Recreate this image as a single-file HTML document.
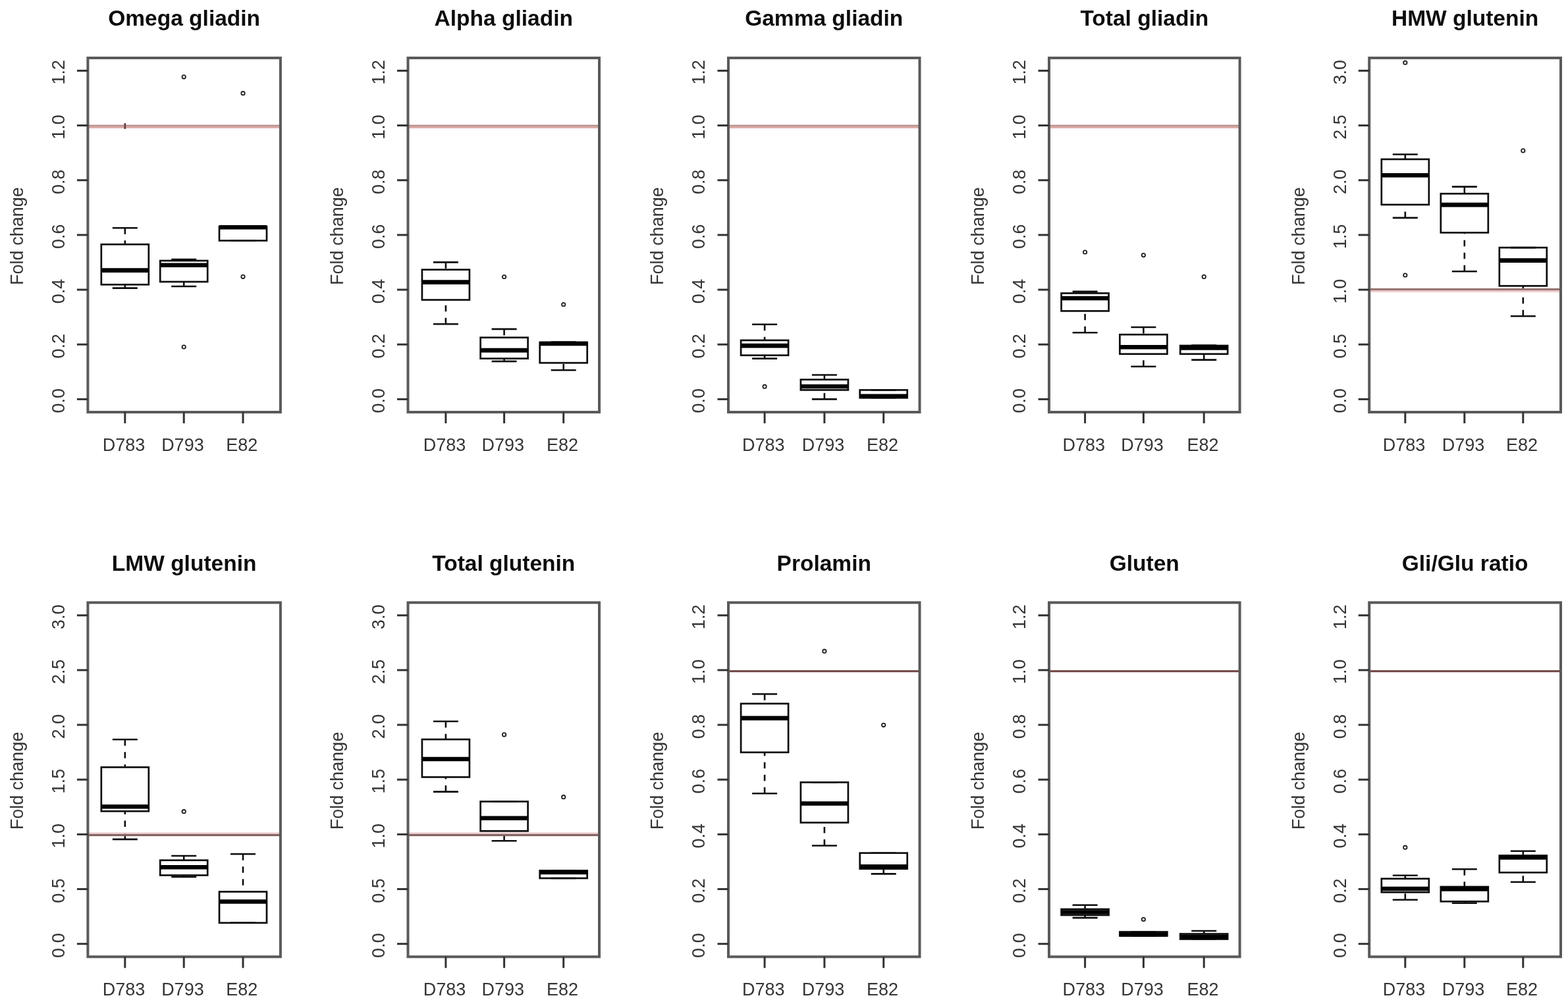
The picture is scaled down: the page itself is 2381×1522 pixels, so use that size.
<!DOCTYPE html>
<html><head><meta charset="utf-8"><title>Fold change boxplots</title>
<style>
html,body{margin:0;padding:0;background:#fff;}
body{width:2381px;height:1522px;overflow:hidden;}
svg{display:block;}
.fr{fill:none;stroke:#5a5a5a;stroke-width:4.0;}
.tk{stroke:#333;stroke-width:3.0;}
.bx{fill:none;stroke:#111;stroke-width:2.7;}
.md{stroke:#000;stroke-width:6.6;}
.wh{stroke:#111;stroke-width:2.6;stroke-dasharray:9.5 9.5;}
.st{stroke:#111;stroke-width:2.6;}
.ou{fill:none;stroke:#222;stroke-width:1.8;}
.rd{stroke:#c98a8a;stroke-width:3.4;}
.ax{font-family:"Liberation Sans",Arial,sans-serif;font-size:27px;fill:#363636;}
.ti{font-family:"Liberation Sans",Arial,sans-serif;font-size:33.5px;font-weight:bold;fill:#111;}
</style></head>
<body>
<svg width="2381" height="1522" viewBox="0 0 2381 1522">
<defs><filter id="soft" x="0" y="0" width="2381" height="1522" filterUnits="userSpaceOnUse"><feGaussianBlur stdDeviation="0.55"/></filter></defs>
<rect x="0" y="0" width="2381" height="1522" fill="#fff"/>
<g filter="url(#soft)">
<rect x="0" y="0" width="2381" height="1522" fill="#fff"/>
<line x1="189.8" y1="346.3" x2="189.8" y2="371.2" class="wh"/>
<line x1="189.8" y1="437.6" x2="189.8" y2="432.3" class="wh"/>
<line x1="170.8" y1="346.3" x2="208.8" y2="346.3" class="st"/>
<line x1="170.8" y1="437.6" x2="208.8" y2="437.6" class="st"/>
<rect x="153.8" y="371.2" width="72" height="61.1" class="bx"/>
<line x1="153.8" y1="410.6" x2="225.8" y2="410.6" class="md"/>
<line x1="279.2" y1="394" x2="279.2" y2="396" class="wh"/>
<line x1="279.2" y1="435" x2="279.2" y2="428" class="wh"/>
<line x1="260.2" y1="394" x2="298.2" y2="394" class="st"/>
<line x1="260.2" y1="435" x2="298.2" y2="435" class="st"/>
<rect x="243.2" y="396" width="72" height="32" class="bx"/>
<line x1="243.2" y1="402.7" x2="315.2" y2="402.7" class="md"/>
<circle cx="279.2" cy="116.8" r="2.7" class="ou"/>
<circle cx="279.2" cy="527" r="2.7" class="ou"/>
<line x1="350" y1="344" x2="388" y2="344" class="st"/>
<line x1="350" y1="365.5" x2="388" y2="365.5" class="st"/>
<rect x="333" y="344" width="72" height="21.5" class="bx"/>
<line x1="333" y1="345.2" x2="405" y2="345.2" class="md"/>
<circle cx="369" cy="141.7" r="2.7" class="ou"/>
<circle cx="369" cy="420.3" r="2.7" class="ou"/>
<rect x="133.4" y="189.6" width="292.5" height="2.3" fill="#b98c88"/>
<rect x="133.4" y="191.9" width="292.5" height="2.9" fill="#d8aaa6"/>
<rect x="188.4" y="186.9" width="2.8" height="9" fill="#6a4444"/>
<rect x="133.4" y="88" width="292.5" height="538" class="fr"/>
<line x1="116.9" y1="606.4" x2="133.4" y2="606.4" class="tk"/>
<text x="97.8" y="608.8" transform="rotate(-90 97.8 608.8)" class="ax" text-anchor="middle">0.0</text>
<line x1="116.9" y1="523.23" x2="133.4" y2="523.23" class="tk"/>
<text x="97.8" y="525.63" transform="rotate(-90 97.8 525.63)" class="ax" text-anchor="middle">0.2</text>
<line x1="116.9" y1="440.07" x2="133.4" y2="440.07" class="tk"/>
<text x="97.8" y="442.47" transform="rotate(-90 97.8 442.47)" class="ax" text-anchor="middle">0.4</text>
<line x1="116.9" y1="356.9" x2="133.4" y2="356.9" class="tk"/>
<text x="97.8" y="359.3" transform="rotate(-90 97.8 359.3)" class="ax" text-anchor="middle">0.6</text>
<line x1="116.9" y1="273.73" x2="133.4" y2="273.73" class="tk"/>
<text x="97.8" y="276.13" transform="rotate(-90 97.8 276.13)" class="ax" text-anchor="middle">0.8</text>
<line x1="116.9" y1="190.57" x2="133.4" y2="190.57" class="tk"/>
<text x="97.8" y="192.97" transform="rotate(-90 97.8 192.97)" class="ax" text-anchor="middle">1.0</text>
<line x1="116.9" y1="107.4" x2="133.4" y2="107.4" class="tk"/>
<text x="97.8" y="109.8" transform="rotate(-90 97.8 109.8)" class="ax" text-anchor="middle">1.2</text>
<line x1="189.8" y1="626" x2="189.8" y2="643" class="tk"/>
<text x="188" y="685" class="ax" text-anchor="middle">D783</text>
<line x1="279.2" y1="626" x2="279.2" y2="643" class="tk"/>
<text x="277.4" y="685" class="ax" text-anchor="middle">D793</text>
<line x1="369" y1="626" x2="369" y2="643" class="tk"/>
<text x="367.2" y="685" class="ax" text-anchor="middle">E82</text>
<text x="34.9" y="358.6" transform="rotate(-90 34.9 358.6)" class="ax" text-anchor="middle">Fold change</text>
<text x="279.65" y="39" class="ti" text-anchor="middle">Omega gliadin</text>
<line x1="676.9" y1="398.4" x2="676.9" y2="409.6" class="wh"/>
<line x1="676.9" y1="492.3" x2="676.9" y2="455.5" class="wh"/>
<line x1="657.9" y1="398.4" x2="695.9" y2="398.4" class="st"/>
<line x1="657.9" y1="492.3" x2="695.9" y2="492.3" class="st"/>
<rect x="640.9" y="409.6" width="72" height="45.9" class="bx"/>
<line x1="640.9" y1="428.6" x2="712.9" y2="428.6" class="md"/>
<line x1="765.6" y1="499.9" x2="765.6" y2="512.7" class="wh"/>
<line x1="765.6" y1="548.9" x2="765.6" y2="544.6" class="wh"/>
<line x1="746.6" y1="499.9" x2="784.6" y2="499.9" class="st"/>
<line x1="746.6" y1="548.9" x2="784.6" y2="548.9" class="st"/>
<rect x="729.6" y="512.7" width="72" height="31.9" class="bx"/>
<line x1="729.6" y1="532.1" x2="801.6" y2="532.1" class="md"/>
<circle cx="765.6" cy="420.5" r="2.7" class="ou"/>
<line x1="855.7" y1="562.3" x2="855.7" y2="551.2" class="wh"/>
<line x1="836.7" y1="519.5" x2="874.7" y2="519.5" class="st"/>
<line x1="836.7" y1="562.3" x2="874.7" y2="562.3" class="st"/>
<rect x="819.7" y="520" width="72" height="31.2" class="bx"/>
<line x1="819.7" y1="522" x2="891.7" y2="522" class="md"/>
<circle cx="855.7" cy="462.5" r="2.7" class="ou"/>
<rect x="619.5" y="189.6" width="290.5" height="2.3" fill="#b98c88"/>
<rect x="619.5" y="191.9" width="290.5" height="2.9" fill="#d8aaa6"/>
<rect x="619.5" y="88" width="290.5" height="538" class="fr"/>
<line x1="603" y1="606.4" x2="619.5" y2="606.4" class="tk"/>
<text x="583.9" y="608.8" transform="rotate(-90 583.9 608.8)" class="ax" text-anchor="middle">0.0</text>
<line x1="603" y1="523.23" x2="619.5" y2="523.23" class="tk"/>
<text x="583.9" y="525.63" transform="rotate(-90 583.9 525.63)" class="ax" text-anchor="middle">0.2</text>
<line x1="603" y1="440.07" x2="619.5" y2="440.07" class="tk"/>
<text x="583.9" y="442.47" transform="rotate(-90 583.9 442.47)" class="ax" text-anchor="middle">0.4</text>
<line x1="603" y1="356.9" x2="619.5" y2="356.9" class="tk"/>
<text x="583.9" y="359.3" transform="rotate(-90 583.9 359.3)" class="ax" text-anchor="middle">0.6</text>
<line x1="603" y1="273.73" x2="619.5" y2="273.73" class="tk"/>
<text x="583.9" y="276.13" transform="rotate(-90 583.9 276.13)" class="ax" text-anchor="middle">0.8</text>
<line x1="603" y1="190.57" x2="619.5" y2="190.57" class="tk"/>
<text x="583.9" y="192.97" transform="rotate(-90 583.9 192.97)" class="ax" text-anchor="middle">1.0</text>
<line x1="603" y1="107.4" x2="619.5" y2="107.4" class="tk"/>
<text x="583.9" y="109.8" transform="rotate(-90 583.9 109.8)" class="ax" text-anchor="middle">1.2</text>
<line x1="676.9" y1="626" x2="676.9" y2="643" class="tk"/>
<text x="675.1" y="685" class="ax" text-anchor="middle">D783</text>
<line x1="765.6" y1="626" x2="765.6" y2="643" class="tk"/>
<text x="763.8" y="685" class="ax" text-anchor="middle">D793</text>
<line x1="855.7" y1="626" x2="855.7" y2="643" class="tk"/>
<text x="853.9" y="685" class="ax" text-anchor="middle">E82</text>
<text x="521" y="358.6" transform="rotate(-90 521 358.6)" class="ax" text-anchor="middle">Fold change</text>
<text x="764.75" y="39" class="ti" text-anchor="middle">Alpha gliadin</text>
<line x1="1161.1" y1="492.8" x2="1161.1" y2="516.9" class="wh"/>
<line x1="1161.1" y1="544.6" x2="1161.1" y2="539.7" class="wh"/>
<line x1="1142.1" y1="492.8" x2="1180.1" y2="492.8" class="st"/>
<line x1="1142.1" y1="544.6" x2="1180.1" y2="544.6" class="st"/>
<rect x="1125.1" y="516.9" width="72" height="22.8" class="bx"/>
<line x1="1125.1" y1="525.1" x2="1197.1" y2="525.1" class="md"/>
<circle cx="1161.1" cy="587.2" r="2.7" class="ou"/>
<line x1="1251.9" y1="569.5" x2="1251.9" y2="576.6" class="wh"/>
<line x1="1251.9" y1="606.4" x2="1251.9" y2="592.4" class="wh"/>
<line x1="1232.9" y1="569.5" x2="1270.9" y2="569.5" class="st"/>
<line x1="1232.9" y1="606.4" x2="1270.9" y2="606.4" class="st"/>
<rect x="1215.9" y="576.6" width="72" height="15.8" class="bx"/>
<line x1="1215.9" y1="587" x2="1287.9" y2="587" class="md"/>
<line x1="1322.7" y1="592.4" x2="1360.7" y2="592.4" class="st"/>
<line x1="1322.7" y1="604.3" x2="1360.7" y2="604.3" class="st"/>
<rect x="1305.7" y="592.4" width="72" height="11.9" class="bx"/>
<line x1="1305.7" y1="601.8" x2="1377.7" y2="601.8" class="md"/>
<rect x="1106" y="189.6" width="290.5" height="2.3" fill="#b98c88"/>
<rect x="1106" y="191.9" width="290.5" height="2.9" fill="#d8aaa6"/>
<rect x="1106" y="88" width="290.5" height="538" class="fr"/>
<line x1="1089.5" y1="606.4" x2="1106" y2="606.4" class="tk"/>
<text x="1070.4" y="608.8" transform="rotate(-90 1070.4 608.8)" class="ax" text-anchor="middle">0.0</text>
<line x1="1089.5" y1="523.23" x2="1106" y2="523.23" class="tk"/>
<text x="1070.4" y="525.63" transform="rotate(-90 1070.4 525.63)" class="ax" text-anchor="middle">0.2</text>
<line x1="1089.5" y1="440.07" x2="1106" y2="440.07" class="tk"/>
<text x="1070.4" y="442.47" transform="rotate(-90 1070.4 442.47)" class="ax" text-anchor="middle">0.4</text>
<line x1="1089.5" y1="356.9" x2="1106" y2="356.9" class="tk"/>
<text x="1070.4" y="359.3" transform="rotate(-90 1070.4 359.3)" class="ax" text-anchor="middle">0.6</text>
<line x1="1089.5" y1="273.73" x2="1106" y2="273.73" class="tk"/>
<text x="1070.4" y="276.13" transform="rotate(-90 1070.4 276.13)" class="ax" text-anchor="middle">0.8</text>
<line x1="1089.5" y1="190.57" x2="1106" y2="190.57" class="tk"/>
<text x="1070.4" y="192.97" transform="rotate(-90 1070.4 192.97)" class="ax" text-anchor="middle">1.0</text>
<line x1="1089.5" y1="107.4" x2="1106" y2="107.4" class="tk"/>
<text x="1070.4" y="109.8" transform="rotate(-90 1070.4 109.8)" class="ax" text-anchor="middle">1.2</text>
<line x1="1161.1" y1="626" x2="1161.1" y2="643" class="tk"/>
<text x="1159.3" y="685" class="ax" text-anchor="middle">D783</text>
<line x1="1251.9" y1="626" x2="1251.9" y2="643" class="tk"/>
<text x="1250.1" y="685" class="ax" text-anchor="middle">D793</text>
<line x1="1341.7" y1="626" x2="1341.7" y2="643" class="tk"/>
<text x="1339.9" y="685" class="ax" text-anchor="middle">E82</text>
<text x="1007.5" y="358.6" transform="rotate(-90 1007.5 358.6)" class="ax" text-anchor="middle">Fold change</text>
<text x="1251.25" y="39" class="ti" text-anchor="middle">Gamma gliadin</text>
<line x1="1647.6" y1="442.8" x2="1647.6" y2="445.4" class="wh"/>
<line x1="1647.6" y1="505.2" x2="1647.6" y2="472.4" class="wh"/>
<line x1="1628.6" y1="442.8" x2="1666.6" y2="442.8" class="st"/>
<line x1="1628.6" y1="505.2" x2="1666.6" y2="505.2" class="st"/>
<rect x="1611.6" y="445.4" width="72" height="27" class="bx"/>
<line x1="1611.6" y1="453" x2="1683.6" y2="453" class="md"/>
<circle cx="1647.6" cy="383" r="2.7" class="ou"/>
<line x1="1736.4" y1="497" x2="1736.4" y2="508.2" class="wh"/>
<line x1="1736.4" y1="556.8" x2="1736.4" y2="537.7" class="wh"/>
<line x1="1717.4" y1="497" x2="1755.4" y2="497" class="st"/>
<line x1="1717.4" y1="556.8" x2="1755.4" y2="556.8" class="st"/>
<rect x="1700.4" y="508.2" width="72" height="29.5" class="bx"/>
<line x1="1700.4" y1="527.2" x2="1772.4" y2="527.2" class="md"/>
<circle cx="1736.4" cy="387.6" r="2.7" class="ou"/>
<line x1="1828.2" y1="546.6" x2="1828.2" y2="537.7" class="wh"/>
<line x1="1809.2" y1="524.5" x2="1847.2" y2="524.5" class="st"/>
<line x1="1809.2" y1="546.6" x2="1847.2" y2="546.6" class="st"/>
<rect x="1792.2" y="525" width="72" height="12.7" class="bx"/>
<line x1="1792.2" y1="528.5" x2="1864.2" y2="528.5" class="md"/>
<circle cx="1828.2" cy="420.4" r="2.7" class="ou"/>
<rect x="1593" y="189.6" width="289.6" height="2.3" fill="#b98c88"/>
<rect x="1593" y="191.9" width="289.6" height="2.9" fill="#d8aaa6"/>
<rect x="1593" y="88" width="289.6" height="538" class="fr"/>
<line x1="1576.5" y1="606.4" x2="1593" y2="606.4" class="tk"/>
<text x="1557.4" y="608.8" transform="rotate(-90 1557.4 608.8)" class="ax" text-anchor="middle">0.0</text>
<line x1="1576.5" y1="523.23" x2="1593" y2="523.23" class="tk"/>
<text x="1557.4" y="525.63" transform="rotate(-90 1557.4 525.63)" class="ax" text-anchor="middle">0.2</text>
<line x1="1576.5" y1="440.07" x2="1593" y2="440.07" class="tk"/>
<text x="1557.4" y="442.47" transform="rotate(-90 1557.4 442.47)" class="ax" text-anchor="middle">0.4</text>
<line x1="1576.5" y1="356.9" x2="1593" y2="356.9" class="tk"/>
<text x="1557.4" y="359.3" transform="rotate(-90 1557.4 359.3)" class="ax" text-anchor="middle">0.6</text>
<line x1="1576.5" y1="273.73" x2="1593" y2="273.73" class="tk"/>
<text x="1557.4" y="276.13" transform="rotate(-90 1557.4 276.13)" class="ax" text-anchor="middle">0.8</text>
<line x1="1576.5" y1="190.57" x2="1593" y2="190.57" class="tk"/>
<text x="1557.4" y="192.97" transform="rotate(-90 1557.4 192.97)" class="ax" text-anchor="middle">1.0</text>
<line x1="1576.5" y1="107.4" x2="1593" y2="107.4" class="tk"/>
<text x="1557.4" y="109.8" transform="rotate(-90 1557.4 109.8)" class="ax" text-anchor="middle">1.2</text>
<line x1="1647.6" y1="626" x2="1647.6" y2="643" class="tk"/>
<text x="1645.8" y="685" class="ax" text-anchor="middle">D783</text>
<line x1="1736.4" y1="626" x2="1736.4" y2="643" class="tk"/>
<text x="1734.6" y="685" class="ax" text-anchor="middle">D793</text>
<line x1="1828.2" y1="626" x2="1828.2" y2="643" class="tk"/>
<text x="1826.4" y="685" class="ax" text-anchor="middle">E82</text>
<text x="1494.5" y="358.6" transform="rotate(-90 1494.5 358.6)" class="ax" text-anchor="middle">Fold change</text>
<text x="1737.8" y="39" class="ti" text-anchor="middle">Total gliadin</text>
<line x1="2133.8" y1="234.5" x2="2133.8" y2="241.9" class="wh"/>
<line x1="2133.8" y1="330.9" x2="2133.8" y2="310.9" class="wh"/>
<line x1="2114.8" y1="234.5" x2="2152.8" y2="234.5" class="st"/>
<line x1="2114.8" y1="330.9" x2="2152.8" y2="330.9" class="st"/>
<rect x="2097.8" y="241.9" width="72" height="69" class="bx"/>
<line x1="2097.8" y1="266.2" x2="2169.8" y2="266.2" class="md"/>
<circle cx="2133.8" cy="95.2" r="2.7" class="ou"/>
<circle cx="2133.8" cy="418" r="2.7" class="ou"/>
<line x1="2223.8" y1="283.6" x2="2223.8" y2="294.2" class="wh"/>
<line x1="2223.8" y1="412.2" x2="2223.8" y2="353.4" class="wh"/>
<line x1="2204.8" y1="283.6" x2="2242.8" y2="283.6" class="st"/>
<line x1="2204.8" y1="412.2" x2="2242.8" y2="412.2" class="st"/>
<rect x="2187.8" y="294.2" width="72" height="59.2" class="bx"/>
<line x1="2187.8" y1="311.1" x2="2259.8" y2="311.1" class="md"/>
<line x1="2312.8" y1="480.2" x2="2312.8" y2="434.3" class="wh"/>
<line x1="2293.8" y1="376.1" x2="2331.8" y2="376.1" class="st"/>
<line x1="2293.8" y1="480.2" x2="2331.8" y2="480.2" class="st"/>
<rect x="2276.8" y="376.1" width="72" height="58.2" class="bx"/>
<line x1="2276.8" y1="395.6" x2="2348.8" y2="395.6" class="md"/>
<circle cx="2312.8" cy="228.9" r="2.7" class="ou"/>
<rect x="2079.2" y="437.9" width="290.8" height="3.1" fill="#967270"/>
<rect x="2079.2" y="441" width="290.8" height="3" fill="#eccbcd"/>
<rect x="2079.2" y="88" width="290.8" height="538" class="fr"/>
<line x1="2062.7" y1="606.4" x2="2079.2" y2="606.4" class="tk"/>
<text x="2043.6" y="608.8" transform="rotate(-90 2043.6 608.8)" class="ax" text-anchor="middle">0.0</text>
<line x1="2062.7" y1="523.23" x2="2079.2" y2="523.23" class="tk"/>
<text x="2043.6" y="525.63" transform="rotate(-90 2043.6 525.63)" class="ax" text-anchor="middle">0.5</text>
<line x1="2062.7" y1="440.07" x2="2079.2" y2="440.07" class="tk"/>
<text x="2043.6" y="442.47" transform="rotate(-90 2043.6 442.47)" class="ax" text-anchor="middle">1.0</text>
<line x1="2062.7" y1="356.9" x2="2079.2" y2="356.9" class="tk"/>
<text x="2043.6" y="359.3" transform="rotate(-90 2043.6 359.3)" class="ax" text-anchor="middle">1.5</text>
<line x1="2062.7" y1="273.73" x2="2079.2" y2="273.73" class="tk"/>
<text x="2043.6" y="276.13" transform="rotate(-90 2043.6 276.13)" class="ax" text-anchor="middle">2.0</text>
<line x1="2062.7" y1="190.57" x2="2079.2" y2="190.57" class="tk"/>
<text x="2043.6" y="192.97" transform="rotate(-90 2043.6 192.97)" class="ax" text-anchor="middle">2.5</text>
<line x1="2062.7" y1="107.4" x2="2079.2" y2="107.4" class="tk"/>
<text x="2043.6" y="109.8" transform="rotate(-90 2043.6 109.8)" class="ax" text-anchor="middle">3.0</text>
<line x1="2133.8" y1="626" x2="2133.8" y2="643" class="tk"/>
<text x="2132" y="685" class="ax" text-anchor="middle">D783</text>
<line x1="2223.8" y1="626" x2="2223.8" y2="643" class="tk"/>
<text x="2222" y="685" class="ax" text-anchor="middle">D793</text>
<line x1="2312.8" y1="626" x2="2312.8" y2="643" class="tk"/>
<text x="2311" y="685" class="ax" text-anchor="middle">E82</text>
<text x="1980.7" y="358.6" transform="rotate(-90 1980.7 358.6)" class="ax" text-anchor="middle">Fold change</text>
<text x="2224.6" y="39" class="ti" text-anchor="middle">HMW glutenin</text>
<line x1="189.8" y1="1123.3" x2="189.8" y2="1165.4" class="wh"/>
<line x1="189.8" y1="1274.9" x2="189.8" y2="1232.2" class="wh"/>
<line x1="170.8" y1="1123.3" x2="208.8" y2="1123.3" class="st"/>
<line x1="170.8" y1="1274.9" x2="208.8" y2="1274.9" class="st"/>
<rect x="153.8" y="1165.4" width="72" height="66.8" class="bx"/>
<line x1="153.8" y1="1225.3" x2="225.8" y2="1225.3" class="md"/>
<line x1="279.2" y1="1300" x2="279.2" y2="1306.7" class="wh"/>
<line x1="279.2" y1="1332" x2="279.2" y2="1329.5" class="wh"/>
<line x1="260.2" y1="1300" x2="298.2" y2="1300" class="st"/>
<line x1="260.2" y1="1332" x2="298.2" y2="1332" class="st"/>
<rect x="243.2" y="1306.7" width="72" height="22.8" class="bx"/>
<line x1="243.2" y1="1317.2" x2="315.2" y2="1317.2" class="md"/>
<circle cx="279.2" cy="1232.7" r="2.7" class="ou"/>
<line x1="369" y1="1297.2" x2="369" y2="1354.5" class="wh"/>
<line x1="350" y1="1297.2" x2="388" y2="1297.2" class="st"/>
<line x1="350" y1="1401.8" x2="388" y2="1401.8" class="st"/>
<rect x="333" y="1354.5" width="72" height="47.3" class="bx"/>
<line x1="333" y1="1369.5" x2="405" y2="1369.5" class="md"/>
<rect x="133.4" y="1264" width="292.5" height="2.7" fill="#f2d8da"/>
<rect x="133.4" y="1266.7" width="292.5" height="3.4" fill="#866462"/>
<rect x="133.4" y="915.3" width="292.5" height="538" class="fr"/>
<line x1="116.9" y1="1433.7" x2="133.4" y2="1433.7" class="tk"/>
<text x="97.8" y="1436.1" transform="rotate(-90 97.8 1436.1)" class="ax" text-anchor="middle">0.0</text>
<line x1="116.9" y1="1350.53" x2="133.4" y2="1350.53" class="tk"/>
<text x="97.8" y="1352.93" transform="rotate(-90 97.8 1352.93)" class="ax" text-anchor="middle">0.5</text>
<line x1="116.9" y1="1267.37" x2="133.4" y2="1267.37" class="tk"/>
<text x="97.8" y="1269.77" transform="rotate(-90 97.8 1269.77)" class="ax" text-anchor="middle">1.0</text>
<line x1="116.9" y1="1184.2" x2="133.4" y2="1184.2" class="tk"/>
<text x="97.8" y="1186.6" transform="rotate(-90 97.8 1186.6)" class="ax" text-anchor="middle">1.5</text>
<line x1="116.9" y1="1101.03" x2="133.4" y2="1101.03" class="tk"/>
<text x="97.8" y="1103.43" transform="rotate(-90 97.8 1103.43)" class="ax" text-anchor="middle">2.0</text>
<line x1="116.9" y1="1017.87" x2="133.4" y2="1017.87" class="tk"/>
<text x="97.8" y="1020.27" transform="rotate(-90 97.8 1020.27)" class="ax" text-anchor="middle">2.5</text>
<line x1="116.9" y1="934.7" x2="133.4" y2="934.7" class="tk"/>
<text x="97.8" y="937.1" transform="rotate(-90 97.8 937.1)" class="ax" text-anchor="middle">3.0</text>
<line x1="189.8" y1="1453.3" x2="189.8" y2="1470.3" class="tk"/>
<text x="188" y="1512.3" class="ax" text-anchor="middle">D783</text>
<line x1="279.2" y1="1453.3" x2="279.2" y2="1470.3" class="tk"/>
<text x="277.4" y="1512.3" class="ax" text-anchor="middle">D793</text>
<line x1="369" y1="1453.3" x2="369" y2="1470.3" class="tk"/>
<text x="367.2" y="1512.3" class="ax" text-anchor="middle">E82</text>
<text x="34.9" y="1185.9" transform="rotate(-90 34.9 1185.9)" class="ax" text-anchor="middle">Fold change</text>
<text x="279.65" y="866.8" class="ti" text-anchor="middle">LMW glutenin</text>
<line x1="676.9" y1="1095.8" x2="676.9" y2="1123.1" class="wh"/>
<line x1="676.9" y1="1202.6" x2="676.9" y2="1180.4" class="wh"/>
<line x1="657.9" y1="1095.8" x2="695.9" y2="1095.8" class="st"/>
<line x1="657.9" y1="1202.6" x2="695.9" y2="1202.6" class="st"/>
<rect x="640.9" y="1123.1" width="72" height="57.3" class="bx"/>
<line x1="640.9" y1="1153" x2="712.9" y2="1153" class="md"/>
<line x1="765.6" y1="1277.3" x2="765.6" y2="1262.3" class="wh"/>
<line x1="746.6" y1="1217.5" x2="784.6" y2="1217.5" class="st"/>
<line x1="746.6" y1="1277.3" x2="784.6" y2="1277.3" class="st"/>
<rect x="729.6" y="1217.5" width="72" height="44.8" class="bx"/>
<line x1="729.6" y1="1242.7" x2="801.6" y2="1242.7" class="md"/>
<circle cx="765.6" cy="1115.9" r="2.7" class="ou"/>
<line x1="836.7" y1="1322.5" x2="874.7" y2="1322.5" class="st"/>
<line x1="836.7" y1="1334" x2="874.7" y2="1334" class="st"/>
<rect x="819.7" y="1322.5" width="72" height="11.5" class="bx"/>
<line x1="819.7" y1="1325" x2="891.7" y2="1325" class="md"/>
<circle cx="855.7" cy="1210.7" r="2.7" class="ou"/>
<rect x="619.5" y="1264" width="290.5" height="2.7" fill="#f2d8da"/>
<rect x="619.5" y="1266.7" width="290.5" height="3.4" fill="#866462"/>
<rect x="619.5" y="915.3" width="290.5" height="538" class="fr"/>
<line x1="603" y1="1433.7" x2="619.5" y2="1433.7" class="tk"/>
<text x="583.9" y="1436.1" transform="rotate(-90 583.9 1436.1)" class="ax" text-anchor="middle">0.0</text>
<line x1="603" y1="1350.53" x2="619.5" y2="1350.53" class="tk"/>
<text x="583.9" y="1352.93" transform="rotate(-90 583.9 1352.93)" class="ax" text-anchor="middle">0.5</text>
<line x1="603" y1="1267.37" x2="619.5" y2="1267.37" class="tk"/>
<text x="583.9" y="1269.77" transform="rotate(-90 583.9 1269.77)" class="ax" text-anchor="middle">1.0</text>
<line x1="603" y1="1184.2" x2="619.5" y2="1184.2" class="tk"/>
<text x="583.9" y="1186.6" transform="rotate(-90 583.9 1186.6)" class="ax" text-anchor="middle">1.5</text>
<line x1="603" y1="1101.03" x2="619.5" y2="1101.03" class="tk"/>
<text x="583.9" y="1103.43" transform="rotate(-90 583.9 1103.43)" class="ax" text-anchor="middle">2.0</text>
<line x1="603" y1="1017.87" x2="619.5" y2="1017.87" class="tk"/>
<text x="583.9" y="1020.27" transform="rotate(-90 583.9 1020.27)" class="ax" text-anchor="middle">2.5</text>
<line x1="603" y1="934.7" x2="619.5" y2="934.7" class="tk"/>
<text x="583.9" y="937.1" transform="rotate(-90 583.9 937.1)" class="ax" text-anchor="middle">3.0</text>
<line x1="676.9" y1="1453.3" x2="676.9" y2="1470.3" class="tk"/>
<text x="675.1" y="1512.3" class="ax" text-anchor="middle">D783</text>
<line x1="765.6" y1="1453.3" x2="765.6" y2="1470.3" class="tk"/>
<text x="763.8" y="1512.3" class="ax" text-anchor="middle">D793</text>
<line x1="855.7" y1="1453.3" x2="855.7" y2="1470.3" class="tk"/>
<text x="853.9" y="1512.3" class="ax" text-anchor="middle">E82</text>
<text x="521" y="1185.9" transform="rotate(-90 521 1185.9)" class="ax" text-anchor="middle">Fold change</text>
<text x="764.75" y="866.8" class="ti" text-anchor="middle">Total glutenin</text>
<line x1="1161.1" y1="1054.2" x2="1161.1" y2="1068.8" class="wh"/>
<line x1="1161.1" y1="1205.2" x2="1161.1" y2="1142.8" class="wh"/>
<line x1="1142.1" y1="1054.2" x2="1180.1" y2="1054.2" class="st"/>
<line x1="1142.1" y1="1205.2" x2="1180.1" y2="1205.2" class="st"/>
<rect x="1125.1" y="1068.8" width="72" height="74" class="bx"/>
<line x1="1125.1" y1="1090.9" x2="1197.1" y2="1090.9" class="md"/>
<line x1="1251.9" y1="1284.5" x2="1251.9" y2="1249.5" class="wh"/>
<line x1="1232.9" y1="1188.3" x2="1270.9" y2="1188.3" class="st"/>
<line x1="1232.9" y1="1284.5" x2="1270.9" y2="1284.5" class="st"/>
<rect x="1215.9" y="1188.3" width="72" height="61.2" class="bx"/>
<line x1="1215.9" y1="1220.5" x2="1287.9" y2="1220.5" class="md"/>
<circle cx="1251.9" cy="989.2" r="2.7" class="ou"/>
<line x1="1341.7" y1="1327.4" x2="1341.7" y2="1319.7" class="wh"/>
<line x1="1322.7" y1="1295.7" x2="1360.7" y2="1295.7" class="st"/>
<line x1="1322.7" y1="1327.4" x2="1360.7" y2="1327.4" class="st"/>
<rect x="1305.7" y="1295.7" width="72" height="24" class="bx"/>
<line x1="1305.7" y1="1316.3" x2="1377.7" y2="1316.3" class="md"/>
<circle cx="1341.7" cy="1101.3" r="2.7" class="ou"/>
<rect x="1106" y="1017.9" width="290.5" height="3.2" fill="#754d4b"/>
<rect x="1106" y="915.3" width="290.5" height="538" class="fr"/>
<line x1="1089.5" y1="1433.7" x2="1106" y2="1433.7" class="tk"/>
<text x="1070.4" y="1436.1" transform="rotate(-90 1070.4 1436.1)" class="ax" text-anchor="middle">0.0</text>
<line x1="1089.5" y1="1350.53" x2="1106" y2="1350.53" class="tk"/>
<text x="1070.4" y="1352.93" transform="rotate(-90 1070.4 1352.93)" class="ax" text-anchor="middle">0.2</text>
<line x1="1089.5" y1="1267.37" x2="1106" y2="1267.37" class="tk"/>
<text x="1070.4" y="1269.77" transform="rotate(-90 1070.4 1269.77)" class="ax" text-anchor="middle">0.4</text>
<line x1="1089.5" y1="1184.2" x2="1106" y2="1184.2" class="tk"/>
<text x="1070.4" y="1186.6" transform="rotate(-90 1070.4 1186.6)" class="ax" text-anchor="middle">0.6</text>
<line x1="1089.5" y1="1101.03" x2="1106" y2="1101.03" class="tk"/>
<text x="1070.4" y="1103.43" transform="rotate(-90 1070.4 1103.43)" class="ax" text-anchor="middle">0.8</text>
<line x1="1089.5" y1="1017.87" x2="1106" y2="1017.87" class="tk"/>
<text x="1070.4" y="1020.27" transform="rotate(-90 1070.4 1020.27)" class="ax" text-anchor="middle">1.0</text>
<line x1="1089.5" y1="934.7" x2="1106" y2="934.7" class="tk"/>
<text x="1070.4" y="937.1" transform="rotate(-90 1070.4 937.1)" class="ax" text-anchor="middle">1.2</text>
<line x1="1161.1" y1="1453.3" x2="1161.1" y2="1470.3" class="tk"/>
<text x="1159.3" y="1512.3" class="ax" text-anchor="middle">D783</text>
<line x1="1251.9" y1="1453.3" x2="1251.9" y2="1470.3" class="tk"/>
<text x="1250.1" y="1512.3" class="ax" text-anchor="middle">D793</text>
<line x1="1341.7" y1="1453.3" x2="1341.7" y2="1470.3" class="tk"/>
<text x="1339.9" y="1512.3" class="ax" text-anchor="middle">E82</text>
<text x="1007.5" y="1185.9" transform="rotate(-90 1007.5 1185.9)" class="ax" text-anchor="middle">Fold change</text>
<text x="1251.25" y="866.8" class="ti" text-anchor="middle">Prolamin</text>
<line x1="1647.6" y1="1374.8" x2="1647.6" y2="1381" class="wh"/>
<line x1="1647.6" y1="1394.1" x2="1647.6" y2="1390" class="wh"/>
<line x1="1628.6" y1="1374.8" x2="1666.6" y2="1374.8" class="st"/>
<line x1="1628.6" y1="1394.1" x2="1666.6" y2="1394.1" class="st"/>
<rect x="1611.6" y="1381" width="72" height="9" class="bx"/>
<line x1="1611.6" y1="1385.5" x2="1683.6" y2="1385.5" class="md"/>
<line x1="1717.4" y1="1415.5" x2="1755.4" y2="1415.5" class="st"/>
<line x1="1717.4" y1="1421.5" x2="1755.4" y2="1421.5" class="st"/>
<rect x="1700.4" y="1415.5" width="72" height="6" class="bx"/>
<line x1="1700.4" y1="1419.5" x2="1772.4" y2="1419.5" class="md"/>
<circle cx="1736.4" cy="1396.5" r="2.7" class="ou"/>
<line x1="1828.2" y1="1414" x2="1828.2" y2="1418.5" class="wh"/>
<line x1="1809.2" y1="1414" x2="1847.2" y2="1414" class="st"/>
<line x1="1809.2" y1="1426.5" x2="1847.2" y2="1426.5" class="st"/>
<rect x="1792.2" y="1418.5" width="72" height="8" class="bx"/>
<line x1="1792.2" y1="1423" x2="1864.2" y2="1423" class="md"/>
<rect x="1593" y="1017.9" width="289.6" height="3.2" fill="#754d4b"/>
<rect x="1593" y="915.3" width="289.6" height="538" class="fr"/>
<line x1="1576.5" y1="1433.7" x2="1593" y2="1433.7" class="tk"/>
<text x="1557.4" y="1436.1" transform="rotate(-90 1557.4 1436.1)" class="ax" text-anchor="middle">0.0</text>
<line x1="1576.5" y1="1350.53" x2="1593" y2="1350.53" class="tk"/>
<text x="1557.4" y="1352.93" transform="rotate(-90 1557.4 1352.93)" class="ax" text-anchor="middle">0.2</text>
<line x1="1576.5" y1="1267.37" x2="1593" y2="1267.37" class="tk"/>
<text x="1557.4" y="1269.77" transform="rotate(-90 1557.4 1269.77)" class="ax" text-anchor="middle">0.4</text>
<line x1="1576.5" y1="1184.2" x2="1593" y2="1184.2" class="tk"/>
<text x="1557.4" y="1186.6" transform="rotate(-90 1557.4 1186.6)" class="ax" text-anchor="middle">0.6</text>
<line x1="1576.5" y1="1101.03" x2="1593" y2="1101.03" class="tk"/>
<text x="1557.4" y="1103.43" transform="rotate(-90 1557.4 1103.43)" class="ax" text-anchor="middle">0.8</text>
<line x1="1576.5" y1="1017.87" x2="1593" y2="1017.87" class="tk"/>
<text x="1557.4" y="1020.27" transform="rotate(-90 1557.4 1020.27)" class="ax" text-anchor="middle">1.0</text>
<line x1="1576.5" y1="934.7" x2="1593" y2="934.7" class="tk"/>
<text x="1557.4" y="937.1" transform="rotate(-90 1557.4 937.1)" class="ax" text-anchor="middle">1.2</text>
<line x1="1647.6" y1="1453.3" x2="1647.6" y2="1470.3" class="tk"/>
<text x="1645.8" y="1512.3" class="ax" text-anchor="middle">D783</text>
<line x1="1736.4" y1="1453.3" x2="1736.4" y2="1470.3" class="tk"/>
<text x="1734.6" y="1512.3" class="ax" text-anchor="middle">D793</text>
<line x1="1828.2" y1="1453.3" x2="1828.2" y2="1470.3" class="tk"/>
<text x="1826.4" y="1512.3" class="ax" text-anchor="middle">E82</text>
<text x="1494.5" y="1185.9" transform="rotate(-90 1494.5 1185.9)" class="ax" text-anchor="middle">Fold change</text>
<text x="1737.8" y="866.8" class="ti" text-anchor="middle">Gluten</text>
<line x1="2133.8" y1="1329.7" x2="2133.8" y2="1334.7" class="wh"/>
<line x1="2133.8" y1="1366.8" x2="2133.8" y2="1355.3" class="wh"/>
<line x1="2114.8" y1="1329.7" x2="2152.8" y2="1329.7" class="st"/>
<line x1="2114.8" y1="1366.8" x2="2152.8" y2="1366.8" class="st"/>
<rect x="2097.8" y="1334.7" width="72" height="20.6" class="bx"/>
<line x1="2097.8" y1="1350" x2="2169.8" y2="1350" class="md"/>
<circle cx="2133.8" cy="1287.2" r="2.7" class="ou"/>
<line x1="2223.8" y1="1320.2" x2="2223.8" y2="1347" class="wh"/>
<line x1="2223.8" y1="1371.8" x2="2223.8" y2="1369.3" class="wh"/>
<line x1="2204.8" y1="1320.2" x2="2242.8" y2="1320.2" class="st"/>
<line x1="2204.8" y1="1371.8" x2="2242.8" y2="1371.8" class="st"/>
<rect x="2187.8" y="1347" width="72" height="22.3" class="bx"/>
<line x1="2187.8" y1="1350.5" x2="2259.8" y2="1350.5" class="md"/>
<line x1="2312.8" y1="1292.8" x2="2312.8" y2="1299.5" class="wh"/>
<line x1="2312.8" y1="1339.8" x2="2312.8" y2="1325.3" class="wh"/>
<line x1="2293.8" y1="1292.8" x2="2331.8" y2="1292.8" class="st"/>
<line x1="2293.8" y1="1339.8" x2="2331.8" y2="1339.8" class="st"/>
<rect x="2276.8" y="1299.5" width="72" height="25.8" class="bx"/>
<line x1="2276.8" y1="1302.5" x2="2348.8" y2="1302.5" class="md"/>
<rect x="2079.2" y="1017.9" width="290.8" height="3.2" fill="#754d4b"/>
<rect x="2079.2" y="915.3" width="290.8" height="538" class="fr"/>
<line x1="2062.7" y1="1433.7" x2="2079.2" y2="1433.7" class="tk"/>
<text x="2043.6" y="1436.1" transform="rotate(-90 2043.6 1436.1)" class="ax" text-anchor="middle">0.0</text>
<line x1="2062.7" y1="1350.53" x2="2079.2" y2="1350.53" class="tk"/>
<text x="2043.6" y="1352.93" transform="rotate(-90 2043.6 1352.93)" class="ax" text-anchor="middle">0.2</text>
<line x1="2062.7" y1="1267.37" x2="2079.2" y2="1267.37" class="tk"/>
<text x="2043.6" y="1269.77" transform="rotate(-90 2043.6 1269.77)" class="ax" text-anchor="middle">0.4</text>
<line x1="2062.7" y1="1184.2" x2="2079.2" y2="1184.2" class="tk"/>
<text x="2043.6" y="1186.6" transform="rotate(-90 2043.6 1186.6)" class="ax" text-anchor="middle">0.6</text>
<line x1="2062.7" y1="1101.03" x2="2079.2" y2="1101.03" class="tk"/>
<text x="2043.6" y="1103.43" transform="rotate(-90 2043.6 1103.43)" class="ax" text-anchor="middle">0.8</text>
<line x1="2062.7" y1="1017.87" x2="2079.2" y2="1017.87" class="tk"/>
<text x="2043.6" y="1020.27" transform="rotate(-90 2043.6 1020.27)" class="ax" text-anchor="middle">1.0</text>
<line x1="2062.7" y1="934.7" x2="2079.2" y2="934.7" class="tk"/>
<text x="2043.6" y="937.1" transform="rotate(-90 2043.6 937.1)" class="ax" text-anchor="middle">1.2</text>
<line x1="2133.8" y1="1453.3" x2="2133.8" y2="1470.3" class="tk"/>
<text x="2132" y="1512.3" class="ax" text-anchor="middle">D783</text>
<line x1="2223.8" y1="1453.3" x2="2223.8" y2="1470.3" class="tk"/>
<text x="2222" y="1512.3" class="ax" text-anchor="middle">D793</text>
<line x1="2312.8" y1="1453.3" x2="2312.8" y2="1470.3" class="tk"/>
<text x="2311" y="1512.3" class="ax" text-anchor="middle">E82</text>
<text x="1980.7" y="1185.9" transform="rotate(-90 1980.7 1185.9)" class="ax" text-anchor="middle">Fold change</text>
<text x="2224.6" y="866.8" class="ti" text-anchor="middle">Gli/Glu ratio</text>
</g>
</svg>
</body></html>
